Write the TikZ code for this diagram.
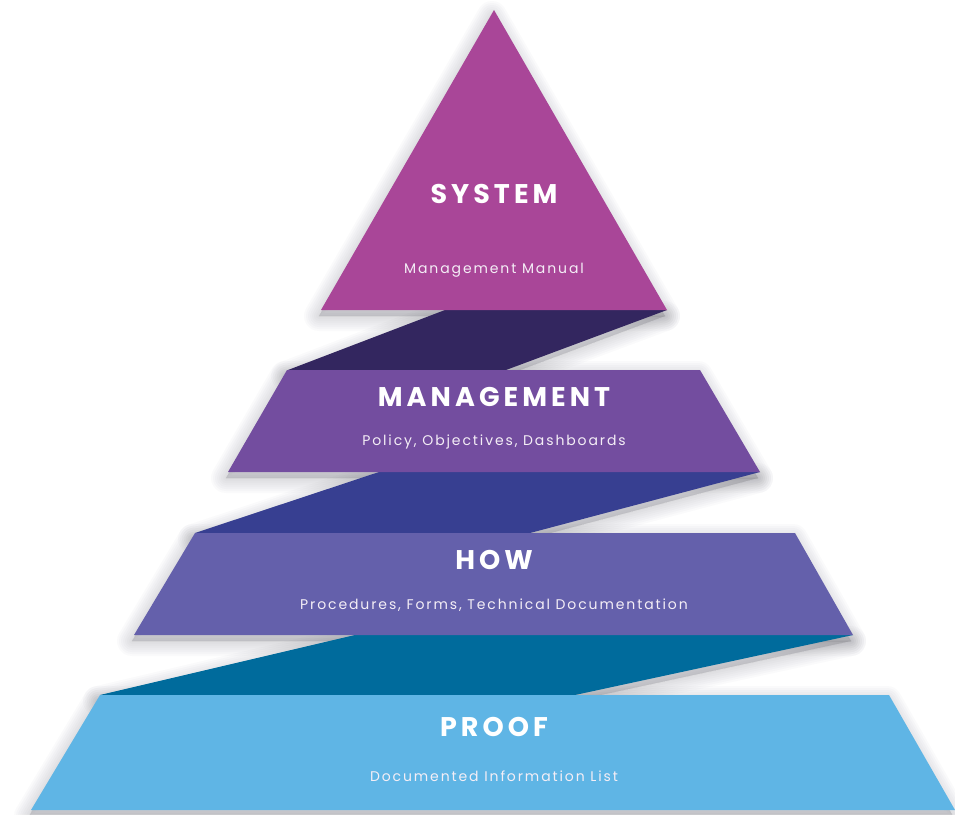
\documentclass[tikz,border=0pt]{standalone}
\usepackage{fontspec}
\setmainfont{Poppins}
\newfontfamily\titlefont{Poppins}[LetterSpace=15]
\newfontfamily\subfont{Poppins}[LetterSpace=13.5]
\definecolor{cSys}{HTML}{A94698}
\definecolor{cBandA}{HTML}{33265F}
\definecolor{cMgmt}{HTML}{734D9F}
\definecolor{cBandB}{HTML}{373F91}
\definecolor{cHow}{HTML}{6460AB}
\definecolor{cBandC}{HTML}{006B9C}
\definecolor{cProof}{HTML}{5FB5E5}
\definecolor{cSub}{HTML}{F4EEF6}
\definecolor{cShadow}{HTML}{4A4A55}
\tikzset{
  ttl/.style={text=white, inner sep=0pt, font=\titlefont\bfseries\fontsize{27}{27}\selectfont},
  sub/.style={text=cSub, inner sep=0pt, font=\subfont\fontsize{14}{14}\selectfont},
  shadlayer/.style={draw=cShadow, fill=cShadow, line join=round, draw opacity=0.022, fill opacity=0.022, line width=#1},
}
\begin{document}
\begin{tikzpicture}[x=1pt,y=-1pt]
\useasboundingbox[fill=white] (0,0) rectangle (955,814);
% soft shadow pass
\begin{scope}[shift={(-2,6)}]
\foreach \w in {30,26,22,18,14,10,6,2}{
\foreach \p in {
  {(494,10)--(321,310)--(667,310)--cycle},
  {(445,310)--(667,310)--(506,370)--(288,370)--cycle},
  {(287,370)--(700,370)--(760,472)--(228,472)--cycle},
  {(379,472)--(760,472)--(530,533)--(195,533)--cycle},
  {(195,533)--(795,533)--(853,635)--(134,635)--cycle},
  {(355,635)--(853,635)--(575,695)--(100,695)--cycle},
  {(100,695)--(889,695)--(955,810)--(31,810)--cycle}}
  {\path[shadlayer=\w pt] \p;}
}
\end{scope}
% shapes
\fill[cBandA] (445,310)--(667,310)--(506,370)--(288,370)--cycle;
\fill[cBandB] (379,472)--(760,472)--(530,533)--(195,533)--cycle;
\fill[cBandC] (355,635)--(853,635)--(575,695)--(100,695)--cycle;
\fill[cSys] (494,10)--(321,310)--(667,310)--cycle;
\fill[cMgmt] (287,370)--(700,370)--(760,472)--(228,472)--cycle;
\fill[cHow] (195,533)--(795,533)--(853,635)--(134,635)--cycle;
\fill[cProof] (100,695)--(889,695)--(955,810)--(31,810)--cycle;
% texts
\node[ttl] (sysT) at (494,194) {SYSTEM};
\node[sub] (sysS) at (494,270) {Management Manual};
\node[ttl] (mgmtT) at (494,397) {MANAGEMENT};
\node[sub] (mgmtS) at (494,442) {Policy, Objectives, Dashboards};
\node[ttl] (howT) at (494,560) {HOW};
\node[sub] (howS) at (494,605) {Procedures, Forms, Technical Documentation};
\node[ttl] (proofT) at (494,727) {PROOF};
\node[sub] (proofS) at (494,776) {Documented Information List};
\end{tikzpicture}
\end{document}
